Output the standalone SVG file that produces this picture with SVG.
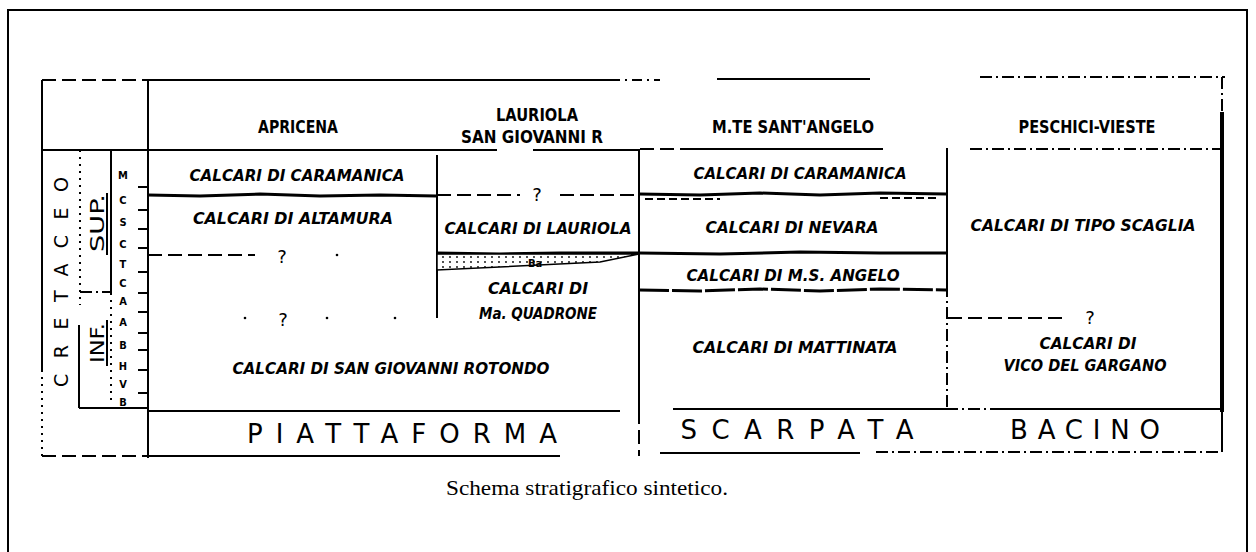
<svg xmlns="http://www.w3.org/2000/svg" width="1256" height="552" viewBox="0 0 1256 552">
<style>
.ln{stroke:#000;stroke-width:2;fill:none}
.th{stroke:#000;stroke-width:3;fill:none}
.dsh{stroke-dasharray:14 6}
.dd{stroke-dasharray:12 4 2 4}
.dt{stroke-dasharray:2 5}
.hd{font-family:"DejaVu Sans Condensed","Liberation Sans",sans-serif;font-size:17px;font-weight:bold;text-anchor:middle;fill:#000}
.fm{font-family:"DejaVu Sans Condensed","Liberation Sans",sans-serif;font-size:16px;font-weight:bold;font-style:italic;text-anchor:middle;fill:#000}
.q{font-family:"DejaVu Sans",sans-serif;font-size:18px;text-anchor:middle;fill:#000}
.big{font-family:"DejaVu Sans","Liberation Sans",sans-serif;font-size:26px;text-anchor:middle;fill:#000}
.stg{font-family:"DejaVu Sans Condensed","Liberation Sans",sans-serif;font-size:11px;font-weight:bold;text-anchor:middle;fill:#000}
.rot{font-family:"DejaVu Sans","Liberation Sans",sans-serif;text-anchor:middle;fill:#000}
.cap{font-family:"Liberation Serif","Times New Roman",serif;font-size:22px;text-anchor:middle;fill:#000}
</style>
<defs>
<pattern id="dots" width="7" height="5" patternUnits="userSpaceOnUse">
<rect width="7" height="5" fill="#fff"/>
<circle cx="2" cy="2" r="0.9" fill="#000"/>
</pattern>
</defs>
<rect width="1256" height="552" fill="#fff"/>
<g id="frame">
<path class="ln" d="M8,552 V10 H1247 V552"/>
</g>
<g id="connectors">
<path class="ln dsh" d="M42,80 H148"/>
<path class="ln" d="M148,80 H610"/>
<path class="ln" d="M610,80 H660" stroke-dasharray="10 5 2 5"/>
<path class="ln" d="M717,79 H870"/>
<path class="ln dd" d="M980,77 H1225"/>
<path class="ln" d="M42,80 V370"/>
<path class="ln dt" d="M42,370 V456"/>
<path class="ln" d="M148,80 V458"/>
<path class="ln dd" d="M1222,77 V112"/>
<path stroke="#000" stroke-width="4" fill="none" d="M1222,112 V412"/>
<path class="ln" d="M1222,412 V452"/>
<path class="ln" d="M42,150 H497"/>
<path class="ln" d="M533,150 H640"/>
<path class="ln dsh" d="M640,149 H690"/>
<path class="ln" d="M690,149 H883"/>
<path class="ln dd" d="M970,149 H1220"/>
<path class="ln" d="M437,155 V318"/>
<path class="ln" d="M639,150 V410"/>
<path class="ln dsh" d="M639,410 V456"/>
<path class="ln" d="M947,148 V285"/>
<path class="ln dd" d="M947,285 V410"/>
<path class="ln" d="M148,411 H620"/>
<path class="ln" d="M673,409 H946"/>
<path class="ln dd" d="M946,409 H1000"/>
<path class="ln" d="M1000,409 H1222"/>
<path class="ln dsh" d="M42,456 H148"/>
<path class="ln" d="M148,456 H560"/>
<path class="ln" d="M660,453 H860"/>
<path class="ln dd" d="M876,452 H1222"/>
<path class="th" d="M148,195 L200,196 L260,194 L320,196 L380,195 L437,196"/>
<path class="ln dsh" d="M437,195 H520"/>
<path class="ln dsh" d="M560,195 H639"/>
<path class="th" d="M639,194 L700,195 L760,193 L820,195 L880,193 L946,194"/>
<path class="ln" stroke-width="1" d="M645,199 H720 M880,198 H940" stroke-dasharray="8 4"/>
<path class="th" d="M437,253 L500,254 L560,253 L639,253 L720,254 L800,252 L880,253 L946,253"/>
<polygon points="437,254 639,254 600,262 437,270" fill="url(#dots)" stroke="#000" stroke-width="1.5"/>
<path class="th" d="M639,290 L700,291 L760,289 L820,291 L880,289 L946,290" stroke-dasharray="30 3"/>
<path class="ln dsh" d="M148,255 H255"/>
<path class="ln dsh" d="M948,318 H1065"/>
<circle cx="337" cy="255" r="1.3"/>
<circle cx="245" cy="318" r="1.3"/>
<circle cx="327" cy="318" r="1.3"/>
<circle cx="395" cy="318" r="1.3"/>
<path class="ln dt" d="M80,150 V305"/>
<path class="ln dd" d="M80,292 H111"/>
<path class="ln" d="M79,325 V408"/>
<path class="ln" d="M111,150 V293"/>
<path class="ln dt" d="M111,293 V405"/>
<path class="ln" d="M79,408 H148"/>
<path class="ln" stroke-width="1.5" d="M107,193 V255 M107,320 V366"/>
<path class="ln" d="M138,187 H148 M138,210 H148 M138,229 H148 M138,248 H148 M138,272 H148 M138,293 H148 M138,312 H148 M138,333 H148 M138,350 H148 M138,370 H148 M138,393 H148"/>
</g>
<g id="era">
<text class="rot" font-size="19" transform="translate(68,282) rotate(-90)" textLength="210" lengthAdjust="spacing">CRETACEO</text>
<text class="rot" font-size="20" transform="translate(104,223) rotate(-90)" textLength="58" lengthAdjust="spacingAndGlyphs">SUP.</text>
<text class="rot" font-size="20" transform="translate(104,343) rotate(-90)" textLength="40" lengthAdjust="spacingAndGlyphs">INF.</text>
</g>
<g id="stages">
<text class="stg" x="123" y="179">M</text>
<text class="stg" x="123" y="204">C</text>
<text class="stg" x="123" y="226">S</text>
<text class="stg" x="123" y="248">C</text>
<text class="stg" x="123" y="268">T</text>
<text class="stg" x="123" y="287">C</text>
<text class="stg" x="123" y="305">A</text>
<text class="stg" x="123" y="326">A</text>
<text class="stg" x="123" y="349">B</text>
<text class="stg" x="123" y="370">H</text>
<text class="stg" x="123" y="388">V</text>
<text class="stg" x="123" y="406">B</text>
</g>
<g id="col-apricena">
<text class="hd" x="298" y="133" textLength="80" lengthAdjust="spacingAndGlyphs">APRICENA</text>
<text class="fm" x="297" y="181" textLength="215" lengthAdjust="spacingAndGlyphs">CALCARI DI CARAMANICA</text>
<text class="fm" x="293" y="224" textLength="200" lengthAdjust="spacingAndGlyphs">CALCARI DI ALTAMURA</text>
<text class="q" x="282" y="263">?</text>
<text class="q" x="283" y="326">?</text>
<text class="fm" x="391" y="374" textLength="317" lengthAdjust="spacingAndGlyphs">CALCARI DI SAN GIOVANNI ROTONDO</text>
</g>
<g id="col-lauriola">
<text class="hd" x="537" y="121" textLength="82" lengthAdjust="spacingAndGlyphs">LAURIOLA</text>
<text class="hd" x="532" y="143" font-size="15" textLength="142" lengthAdjust="spacingAndGlyphs">SAN GIOVANNI R</text>
<text class="q" x="537" y="201" font-size="15">?</text>
<text class="fm" x="538" y="234" textLength="187" lengthAdjust="spacingAndGlyphs">CALCARI DI LAURIOLA</text>
<text class="stg" x="535" y="267" font-size="8">Ba</text>
<text class="fm" x="538" y="294" textLength="100" lengthAdjust="spacingAndGlyphs">CALCARI DI</text>
<text class="fm" x="538" y="319" textLength="118" lengthAdjust="spacingAndGlyphs">Ma. QUADRONE</text>
</g>
<g id="col-santangelo">
<text class="hd" x="793" y="133" textLength="162" lengthAdjust="spacingAndGlyphs">M.TE SANT'ANGELO</text>
<text class="fm" x="800" y="179" textLength="213" lengthAdjust="spacingAndGlyphs">CALCARI DI CARAMANICA</text>
<text class="fm" x="792" y="233" textLength="173" lengthAdjust="spacingAndGlyphs">CALCARI DI NEVARA</text>
<text class="fm" x="793" y="281" textLength="213" lengthAdjust="spacingAndGlyphs">CALCARI DI M.S. ANGELO</text>
<text class="fm" x="795" y="353" textLength="205" lengthAdjust="spacingAndGlyphs">CALCARI DI MATTINATA</text>
</g>
<g id="col-peschici">
<text class="hd" x="1087" y="133" textLength="137" lengthAdjust="spacingAndGlyphs">PESCHICI-VIESTE</text>
<text class="fm" x="1083" y="231" textLength="225" lengthAdjust="spacingAndGlyphs">CALCARI DI TIPO SCAGLIA</text>
<text class="q" x="1090" y="324">?</text>
<text class="fm" x="1088" y="349" textLength="97" lengthAdjust="spacingAndGlyphs">CALCARI DI</text>
<text class="fm" x="1085" y="371" textLength="163" lengthAdjust="spacingAndGlyphs">VICO DEL GARGANO</text>
</g>
<g id="settings">
<text class="big" x="402" y="443" textLength="310" lengthAdjust="spacing">PIATTAFORMA</text>
<text class="big" x="797" y="439" textLength="233" lengthAdjust="spacing">SCARPATA</text>
<text class="big" x="1085" y="439" textLength="150" lengthAdjust="spacing">BACINO</text>
</g>
<g id="caption">
<text class="cap" x="587" y="495" textLength="282" lengthAdjust="spacingAndGlyphs">Schema stratigrafico sintetico.</text>
</g>
</svg>
